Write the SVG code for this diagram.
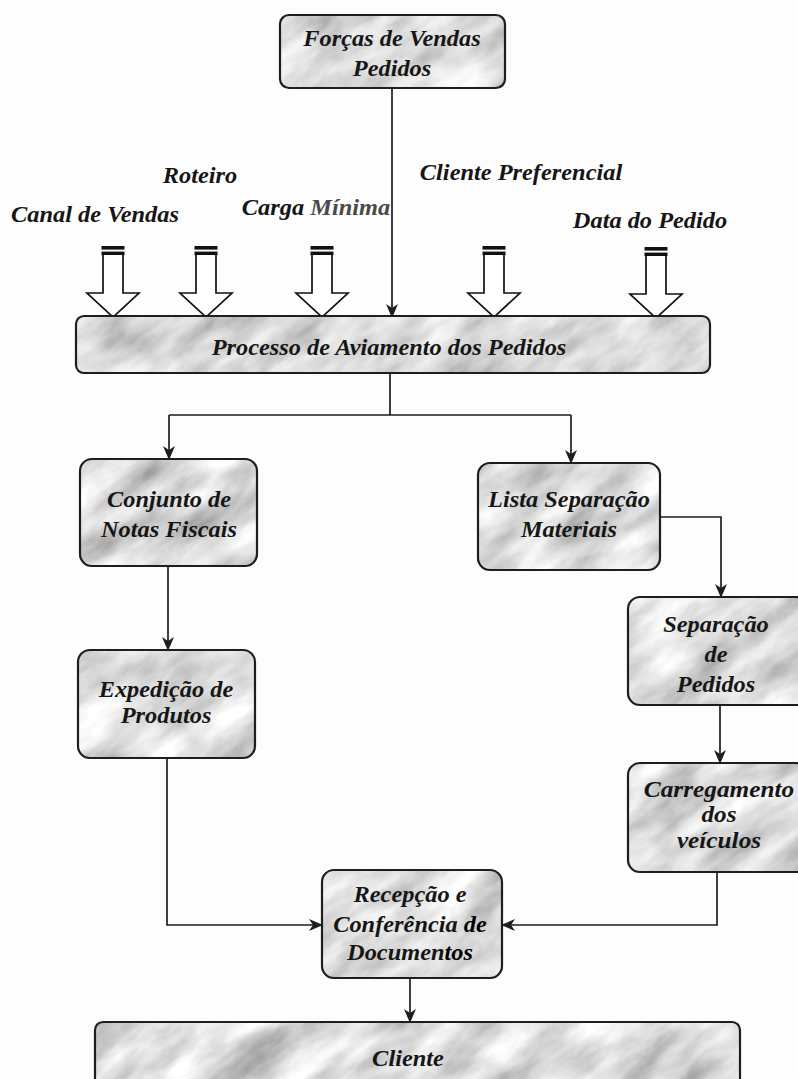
<svg xmlns="http://www.w3.org/2000/svg" xmlns:xlink="http://www.w3.org/1999/xlink" width="798" height="1079" viewBox="0 0 798 1079">
  <defs>
    <style>
      .box { fill: url(#marble); stroke: #1e1e1e; stroke-width: 2.2; }
      .lbl { font-family: "Liberation Serif", "Times New Roman", serif; font-weight: bold; font-style: italic; font-size: 23px; fill: #161616; text-anchor: middle; }
      .wire { fill: none; stroke: #1e1e1e; stroke-width: 1.7; }
      .arrowed { marker-end: url(#head); }
    </style>
    <!-- grey marble texture: cloudy noise, rotated so the veins run diagonally -->
    <filter id="marbleNoise" x="0" y="0" width="1" height="1">
      <feTurbulence type="fractalNoise" baseFrequency="0.012 0.03" numOctaves="5" seed="11"/>
      <feColorMatrix type="matrix" values="1.05 0 0 0 0.2  1.05 0 0 0 0.2  1.05 0 0 0 0.2  0 0 0 0 1"/>
    </filter>
    <pattern id="marble" patternUnits="userSpaceOnUse" x="-900" y="-900" width="2600" height="2600" patternTransform="rotate(-35 400 540)">
      <rect width="2600" height="2600" filter="url(#marbleNoise)"/>
    </pattern>
    <marker id="head" viewBox="0 0 14 12" refX="13" refY="6" markerWidth="14" markerHeight="12" markerUnits="userSpaceOnUse" orient="auto">
      <path d="M0,0 L14,6 L0,12 L4,6 Z" fill="#1e1e1e"/>
    </marker>
    <!-- hollow block arrow with a double bar cap; origin = top centre -->
    <g id="blockArrow">
      <rect x="-11.5" y="0" width="23" height="3.6" fill="#111"/>
      <rect x="-11.5" y="5.6" width="23" height="3.6" fill="#111"/>
      <path d="M-10,9 V47 H-26 L0,71 L26,47 H10 V9" fill="#fff" stroke="#111" stroke-width="1.7" stroke-linejoin="miter"/>
    </g>
  </defs>

  <rect width="798" height="1079" fill="#fdfdfd"/>

  <!-- connectors -->
  <g id="connectors">
    <path class="wire arrowed" d="M392,88 V317"/>
    <path class="wire" d="M390,373 V415 M169,415 H571"/>
    <path class="wire arrowed" d="M169,415 V459"/>
    <path class="wire arrowed" d="M571,415 V463"/>
    <path class="wire arrowed" d="M660,517 H721 V597"/>
    <path class="wire arrowed" d="M168,566 V650"/>
    <path class="wire arrowed" d="M720,705 V763"/>
    <path class="wire arrowed" d="M717,872 V925 H502"/>
    <path class="wire arrowed" d="M167,758 V925 H322"/>
    <path class="wire arrowed" d="M410,978 V1022"/>
  </g>

  <!-- input criteria: labels and block arrows -->
  <g id="criteria">
    <text class="lbl" transform="translate(200 0) scale(1.06 1)" x="0" y="183">Roteiro</text>
    <text class="lbl" transform="translate(95 0) scale(1.06 1)" x="0" y="222">Canal de Vendas</text>
    <text class="lbl" transform="translate(316 0) scale(1.06 1)" x="0" y="215">Carga <tspan fill="#4a4a4a">Mínima</tspan></text>
    <text class="lbl" transform="translate(521 0) scale(1.06 1)" x="0" y="180">Cliente Preferencial</text>
    <text class="lbl" transform="translate(650 0) scale(1.06 1)" x="0" y="228">Data do Pedido</text>
    <use xlink:href="#blockArrow" transform="translate(113 246)"/>
    <use xlink:href="#blockArrow" transform="translate(206 246)"/>
    <use xlink:href="#blockArrow" transform="translate(322 246)"/>
    <use xlink:href="#blockArrow" transform="translate(494 246)"/>
    <use xlink:href="#blockArrow" transform="translate(656 247)"/>
  </g>

  <g id="forcas-vendas">
    <rect class="box" x="280" y="15" width="225" height="73" rx="9"/>
    <text class="lbl" transform="translate(392 0) scale(1.06 1)"><tspan x="0" y="46">Forças de Vendas</tspan><tspan x="0" y="76">Pedidos</tspan></text>
  </g>

  <g id="processo-aviamento">
    <rect class="box" x="76" y="316" width="634" height="57" rx="8"/>
    <text class="lbl" transform="translate(389 0) scale(1.06 1)" x="0" y="355">Processo de Aviamento dos Pedidos</text>
  </g>

  <g id="notas-fiscais">
    <rect class="box" x="80" y="459" width="177" height="107" rx="12"/>
    <text class="lbl" transform="translate(169 0) scale(1.06 1)"><tspan x="0" y="507">Conjunto de</tspan><tspan x="0" y="537">Notas Fiscais</tspan></text>
  </g>

  <g id="lista-separacao">
    <rect class="box" x="478" y="463" width="182" height="107" rx="12"/>
    <text class="lbl" transform="translate(569 0) scale(1.06 1)"><tspan x="0" y="507">Lista Separação</tspan><tspan x="0" y="537">Materiais</tspan></text>
  </g>

  <g id="separacao-pedidos">
    <rect class="box" x="628" y="597" width="180" height="108" rx="12"/>
    <text class="lbl" transform="translate(716 0) scale(1.06 1)"><tspan x="0" y="632">Separação</tspan><tspan x="0" y="662">de</tspan><tspan x="0" y="692">Pedidos</tspan></text>
  </g>

  <g id="expedicao">
    <rect class="box" x="78" y="650" width="177" height="108" rx="12"/>
    <text class="lbl" transform="translate(166 0) scale(1.06 1)"><tspan x="0" y="697">Expedição de</tspan><tspan x="0" y="723">Produtos</tspan></text>
  </g>

  <g id="carregamento">
    <rect class="box" x="628" y="763" width="180" height="109" rx="12"/>
    <text class="lbl" transform="translate(719 0) scale(1.1 1)"><tspan x="0" y="797">Carregamento</tspan><tspan x="0" y="822">dos</tspan><tspan x="0" y="848">veículos</tspan></text>
  </g>

  <g id="recepcao">
    <rect class="box" x="322" y="870" width="180" height="108" rx="12"/>
    <text class="lbl" transform="translate(410 0) scale(1.06 1)"><tspan x="0" y="902">Recepção e</tspan><tspan x="0" y="932">Conferência <tspan fill="#000">de</tspan></tspan><tspan x="0" y="960">Documen<tspan fill="#000">tos</tspan></tspan></text>
  </g>

  <g id="cliente">
    <rect class="box" x="95" y="1022" width="645" height="80" rx="8"/>
    <text class="lbl" transform="translate(408 0) scale(1.06 1)" x="0" y="1066">Cliente</text>
  </g>
</svg>
